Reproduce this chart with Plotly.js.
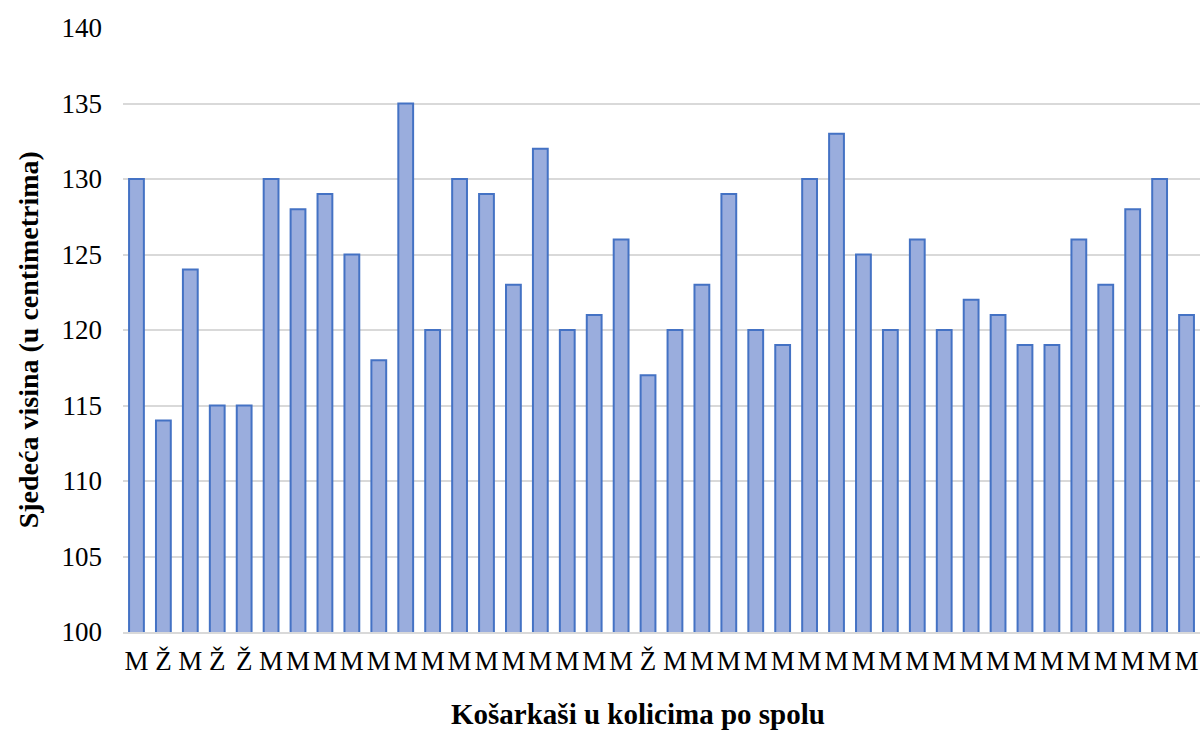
<!DOCTYPE html>
<html>
<head>
<meta charset="utf-8">
<script src="https://cdn.plot.ly/plotly-3.0.1.min.js"></script>
<style>html,body{margin:0;padding:0;background:#fff}#chart{width:1202px;height:731px}</style>
</head>
<body>
<div id="chart"></div>
<script>
const genders = ["M","Ž","M","Ž","Ž","M","M","M","M","M","M","M","M","M","M","M","M","M","M","Ž","M","M","M","M","M","M","M","M","M","M","M","M","M","M","M","M","M","M","M","M"];
const heights = [130,114,124,115,115,130,128,129,125,118,135,120,130,129,123,132,120,121,126,117,120,123,129,120,119,130,133,125,120,126,120,122,121,119,119,126,123,128,130,121];
const idx = genders.map((g,i)=>i);
const yTicks = [100,105,110,115,120,125,130,135,140];
const xTitle = 'Košarkaši u kolicima po spolu';
const yTitle = 'Sjedeća visina (u centimetrima)';

const font = "Liberation Serif, Times New Roman, serif";
Plotly.newPlot('chart', [{
  type: 'bar',
  x: idx,
  y: heights,
  base: 0,
  marker: {color: '#9aaddd', line: {color: '#4472c4', width: 2}},
  hoverinfo: 'none'
}], {
  width: 1202, height: 731,
  margin: {l: 123, r: 2, t: 28, b: 99},
  paper_bgcolor: '#fff', plot_bgcolor: '#fff',
  bargap: 0.45,
  showlegend: false,
  font: {family: font, color: '#000'},
  xaxis: {
    tickmode: 'array', tickvals: idx, ticktext: genders,
    range: [-0.5, genders.length - 0.5],
    showgrid: false, zeroline: false,
    showline: true, linecolor: '#d9d9d9', linewidth: 2,
    ticks: '', tickfont: {size: 27, family: font}, ticklabelstandoff: 4
  },
  yaxis: {
    range: [100, 140], tickvals: yTicks,
    showgrid: true, gridcolor: '#d9d9d9', gridwidth: 2,
    zeroline: false, showline: false, ticks: '',
    tickfont: {size: 27, family: font}, ticklabelstandoff: 20
  },
  annotations: [
    {text: '<b>' + xTitle + '</b>', xref: 'paper', yref: 'paper', x: 0.478, y: -0.136,
     xanchor: 'center', yanchor: 'middle', showarrow: false, font: {size: 29, family: font, color: '#000'}},
    {text: '<b>' + yTitle + '</b>', xref: 'paper', yref: 'paper', x: -0.0882, y: 0.483,
     xanchor: 'center', yanchor: 'middle', textangle: -90, showarrow: false, font: {size: 28, family: font, color: '#000'}}
  ]
}, {displayModeBar: false, staticPlot: true});
</script>
</body>
</html>
